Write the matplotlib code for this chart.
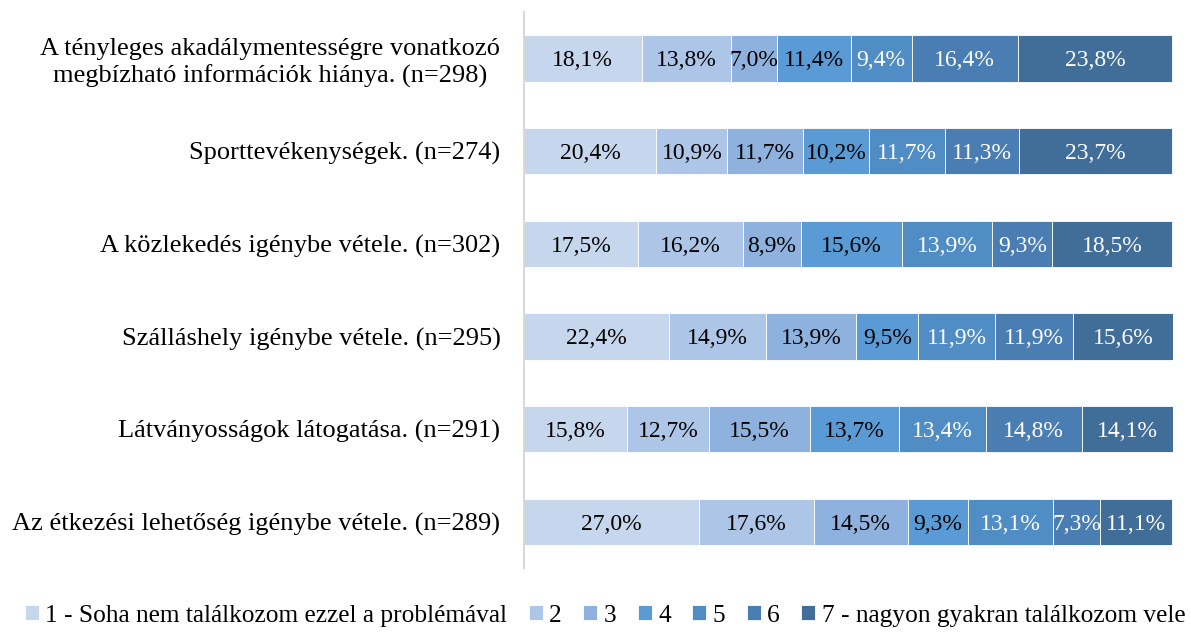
import matplotlib.pyplot as plt
import numpy as np

plt.rcParams['font.family'] = ['Liberation Serif', 'DejaVu Serif']

categories = [
    "A tényleges akadálymentességre vonatkozó\nmegbízható információk hiánya. (n=298)",
    "Sporttevékenységek. (n=274)",
    "A közlekedés igénybe vétele. (n=302)",
    "Szálláshely igénybe vétele. (n=295)",
    "Látványosságok látogatása. (n=291)",
    "Az étkezési lehetőség igénybe vétele. (n=289)",
]
series_names = ["1 - Soha nem találkozom ezzel a problémával", "2", "3", "4", "5", "6",
                "7 - nagyon gyakran találkozom vele"]
s1 = [18.1, 20.4, 17.5, 22.4, 15.8, 27.0]
s2 = [13.8, 10.9, 16.2, 14.9, 12.7, 17.6]
s3 = [7.0, 11.7, 8.9, 13.9, 15.5, 14.5]
s4 = [11.4, 10.2, 15.6, 9.5, 13.7, 9.3]
s5 = [9.4, 11.7, 13.9, 11.9, 13.4, 13.1]
s6 = [16.4, 11.3, 9.3, 11.9, 14.8, 7.3]
s7 = [23.8, 23.7, 18.5, 15.6, 14.1, 11.1]
values = [s1, s2, s3, s4, s5, s6, s7]

colors = ['#c6d6ec', '#adc5e7', '#8eb2dd', '#5b9bd5', '#508dc5', '#4a7eb2', '#416d99']
text_colors = ['black', 'black', 'black', 'black', 'white', 'white', 'white']

fig = plt.figure(figsize=(11.91, 6.32), dpi=100)
ax = fig.add_axes([0.44, 0.101, 0.545, 0.88])

y = np.arange(len(categories))
left = np.zeros(len(categories))
handles = []
for i, vals in enumerate(values):
    vals = np.array(vals)
    b = ax.barh(y, vals, left=left, height=0.5, color=colors[i],
                edgecolor='white', linewidth=0.6, label=series_names[i])
    handles.append(b)
    for yy, l, v in zip(y, left, vals):
        ax.text(l + v / 2, yy, ('%.1f%%' % v).replace('.', ','), ha='center',
                va='center_baseline', fontsize=17, color=text_colors[i])
    left += vals

ax.set_xlim(0, 100)
ax.set_ylim(len(categories) - 0.5, -0.5)
ax.set_yticks(y)
ax.set_yticklabels(categories, fontsize=19, linespacing=1.25, multialignment='center')
ax.tick_params(axis='y', length=0, pad=17)
ax.set_xticks([])
for s in ['top', 'right', 'bottom']:
    ax.spines[s].set_visible(False)
ax.spines['left'].set_color('#d9d9d9')
ax.spines['left'].set_linewidth(1.5)

fig.legend(handles=handles, loc='lower center', bbox_to_anchor=(0.508, -0.028), ncol=7,
           frameon=False, fontsize=18.3, handlelength=0.55, handleheight=0.55,
           handletextpad=0.25, columnspacing=0.85)

plt.savefig('out.png', dpi=100)
